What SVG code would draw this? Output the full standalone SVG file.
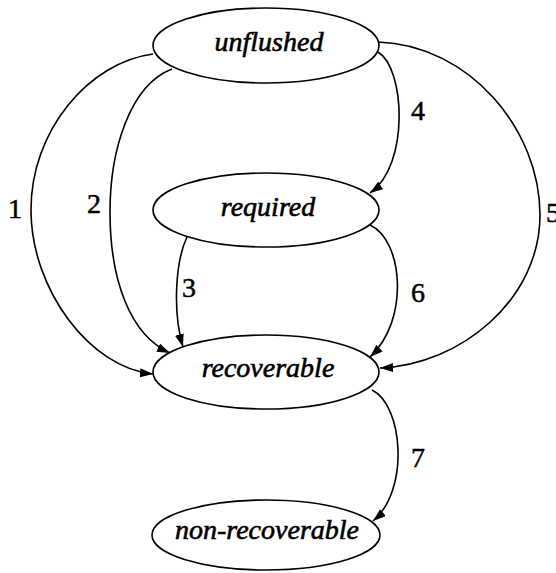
<svg xmlns="http://www.w3.org/2000/svg" width="556" height="573" viewBox="0 0 556 573">
<style>
.node ellipse{fill:#fff;stroke:#000;stroke-width:1.6}
.node text{font-family:"Liberation Serif","Times New Roman",serif;font-style:italic;font-size:28px;text-anchor:middle;fill:#000;stroke:#000;stroke-width:0.6}
.edge path{fill:none;stroke:#000;stroke-width:1.6}
.lbl{font-family:"Liberation Serif","Times New Roman",serif;font-size:28px;text-anchor:middle;fill:#000;stroke:#000;stroke-width:0.5}
</style>
<defs>
<marker id="arr" markerWidth="14" markerHeight="10" refX="13" refY="4.5" orient="auto" markerUnits="userSpaceOnUse">
<path d="M0,0 L13,4.5 L0,9 Z" fill="#000"/>
</marker>
</defs>
<rect width="556" height="573" fill="#fff"/>
<g id="connectors" class="edge">
<path d="M153,54 C90,62 30,130 31,212 C32,290 90,368 153,374" marker-end="url(#arr)"/>
<path d="M172,69 C130,85 110,150 110,212 C110,280 130,335 170,353" marker-end="url(#arr)"/>
<path d="M187,237 C176,260 172,310 183,347" marker-end="url(#arr)"/>
<path d="M378,52 C405,68 410,165 370,193" marker-end="url(#arr)"/>
<path d="M378,42 C470,45 540,130 540,215 C540,300 460,365 380,368" marker-end="url(#arr)"/>
<path d="M370,225 C403,240 410,320 370,357" marker-end="url(#arr)"/>
<path d="M372,390 C403,405 410,490 373,521" marker-end="url(#arr)"/>
</g>
<g id="labels">
<text class="lbl" x="15" y="218">1</text>
<text class="lbl" x="94" y="213">2</text>
<text class="lbl" x="189" y="297">3</text>
<text class="lbl" x="418" y="120">4</text>
<text class="lbl" x="553" y="222">5</text>
<text class="lbl" x="418" y="302">6</text>
<text class="lbl" x="418" y="467">7</text>
</g>
<g id="unflushed" class="node">
<ellipse cx="266" cy="45.5" rx="113" ry="37.5"/>
<text x="269" y="51">unflushed</text>
</g>
<g id="required" class="node">
<ellipse cx="266" cy="210" rx="113" ry="37"/>
<text x="268" y="216">required</text>
</g>
<g id="recoverable" class="node">
<ellipse cx="266" cy="372" rx="113" ry="37"/>
<text x="268" y="377">recoverable</text>
</g>
<g id="non-recoverable" class="node">
<ellipse cx="266" cy="535" rx="114" ry="35"/>
<text x="267" y="539">non-recoverable</text>
</g>
</svg>
